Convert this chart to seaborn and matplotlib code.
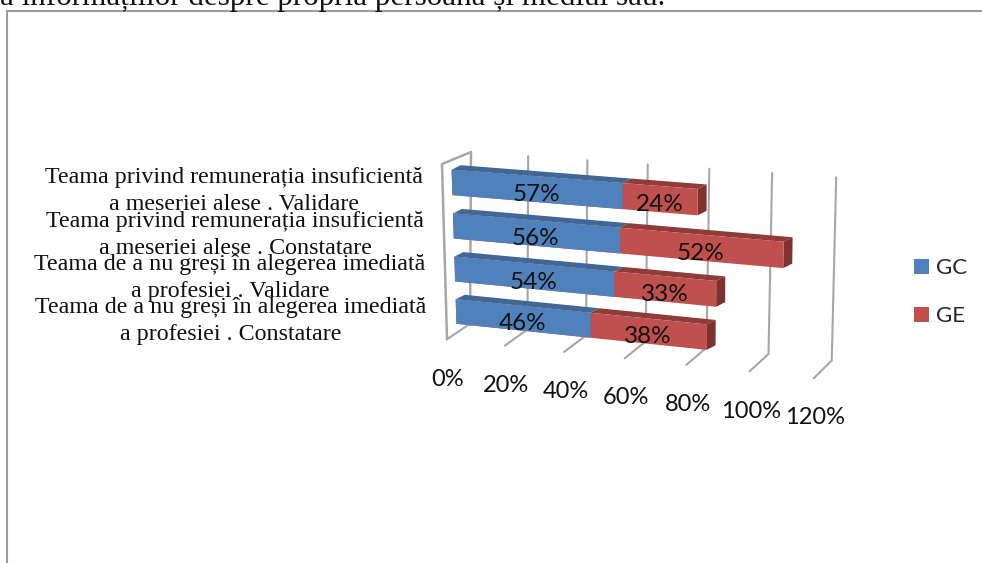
import matplotlib
matplotlib.use("Agg")
import matplotlib.pyplot as plt
from matplotlib.transforms import Transform
import numpy as np
import pandas as pd
import seaborn as sns

categorii = [
    "Teama privind remunerația insuficientă\na meseriei alese . Validare",
    "Teama privind remunerația insuficientă\na meseriei alese . Constatare",
    "Teama de a nu greși în alegerea imediată\na profesiei . Validare",
    "Teama de a nu greși în alegerea imediată\na profesiei . Constatare",
]
gc_valori = [57, 56, 54, 46]
ge_valori = [24, 52, 33, 38]
ticks_x = [0, 20, 40, 60, 80, 100, 120]
titlu = "a informațiilor despre propria persoană și mediul său."

ALBASTRU = "#4F81BD"
ALBASTRU_SUS = "#3F6797"
ROSU = "#C0504D"
ROSU_SUS = "#8E3B39"
ROSU_LATERAL = "#7E3230"
GRI = "#A6A6A6"
BAR_H = 0.58


class Omografie(Transform):
    """Perspectiva 3D falsa: plan (a, b) -> pixeli"""
    input_dims = 2
    output_dims = 2
    is_separable = False
    has_inverse = False

    def __init__(self, sursa, destinatie):
        super().__init__()
        rows = []
        for (a, b), (px, py) in zip(sursa, destinatie):
            rows.append([a, b, 1, 0, 0, 0, -px * a, -px * b, -px])
            rows.append([0, 0, 0, a, b, 1, -py * a, -py * b, -py])
        self.H = np.linalg.svd(np.array(rows, float))[2][-1].reshape(3, 3)

    def transform_non_affine(self, values):
        values = np.asarray(values, float)
        pts = np.c_[values, np.ones(len(values))] @ self.H.T
        return pts[:, :2] / pts[:, [2]]


# fata barelor: (valoare, rand) -> pixeli
fata = Omografie(
    [(0, -.29), (81, -.29), (81, .29), (0, .29),
     (0, .71), (0, 1.29), (108, .71), (108, 1.29),
     (0, 1.71), (0, 2.29), (87, 1.71), (87, 2.29),
     (0, 2.71), (0, 3.29), (84, 2.71), (84, 3.29)],
    [(452, 170), (698, 188), (698, 215), (452, 195),
     (453, 214), (453, 238), (783, 242), (783, 268),
     (455, 257), (455, 282), (716, 282), (716, 307),
     (456, 299), (456, 323), (707, 324), (707, 350)],
)
fata_podea = [(447, 338), (505, 345), (564, 352), (624, 358), (687, 366), (749, 372), (814, 379)]
spate_jos = [(470, 325), (527, 330), (586, 336), (646, 341), (707, 347), (769, 353), (831, 360)]
spate_sus = [(471, 152), (528, 156), (587, 160), (647, 164), (709, 169), (772, 173), (837, 178)]
podea = Omografie([(t, 0) for t in ticks_x] + [(t, 1) for t in ticks_x], fata_podea + spate_jos)
perete = Omografie([(t, 0) for t in ticks_x] + [(t, 1) for t in ticks_x], spate_jos + spate_sus)
lateral = Omografie([(0, 0), (1, 0), (1, 1), (0, 1)],
                    [(447, 338), (470, 325), (471, 152), (442, 164)])

sns.set_theme(style="white")
df = pd.DataFrame({"categorie": categorii, "GC": gc_valori, "GE": ge_valori})
df["total"] = df["GC"] + df["GE"]

fig = plt.figure(figsize=(9.82, 5.63), dpi=100)
ax = fig.add_axes([0, 0, 1, 1])
sns.barplot(df, x="total", y="categorie", color=ROSU, saturation=1, width=BAR_H,
            linewidth=0, label="GE", ax=ax, zorder=4)
sns.barplot(df, x="GC", y="categorie", color=ALBASTRU, saturation=1, width=BAR_H,
            linewidth=0, label="GC", ax=ax, zorder=5)
handles, labels = ax.get_legend_handles_labels()
ax.set_xlim(0, 982)
ax.set_ylim(563, 0)
ax.set_axis_off()

bare = fata + ax.transData
for p in ax.patches:
    p.set_transform(bare)
    p.set_clip_on(False)

# peretii si liniile de grila
for t in ticks_x:
    ax.plot([t, t], [0, 1], color=GRI, lw=1.5, transform=podea + ax.transData, zorder=1, clip_on=False)
    if t > 0:
        ax.plot([t, t], [0, 1], color=GRI, lw=1.5, transform=perete + ax.transData, zorder=1, clip_on=False)
    ax.annotate(f"{t}%", xy=(t, 0), xycoords=podea + ax.transData, xytext=(1, -28.5),
                textcoords="offset points", ha="center", va="center",
                fontsize=17, family="Lato", color="#111111")
ax.plot([0, 0, 1, 1], [0, 1, 1, 0], color=GRI, lw=1.8, transform=lateral + ax.transData, zorder=1)

# fetele de sus si laterale ale barelor
DX, DY = 9, -4.5
for r, (gc, ge) in enumerate(zip(gc_valori, ge_valori)):
    sus = r - BAR_H / 2
    jos = r + BAR_H / 2
    colt = fata.transform([(0, sus), (gc, sus), (gc + ge, sus), (gc + ge, jos)])
    for a, b, c in [(colt[0], colt[1], ALBASTRU_SUS), (colt[1], colt[2], ROSU_SUS)]:
        ax.fill([a[0], b[0], b[0] + DX, a[0] + DX], [a[1], b[1], b[1] + DY, a[1] + DY],
                color=c, lw=0, zorder=3)
    a, b = colt[2], colt[3]
    ax.fill([a[0], b[0], b[0] + DX, a[0] + DX], [a[1], b[1], b[1] + DY, a[1] + DY],
            color=ROSU_LATERAL, lw=0, zorder=3)
    # etichete de valori
    ax.annotate(f"{gc}%", xy=(gc / 2, r), xycoords=bare, xytext=(0, -4), textcoords="offset points",
                ha="center", va="center", fontsize=17.5, family="Lato", color="#111111", zorder=6)
    ax.annotate(f"{ge}%", xy=(gc + ge / 2, r), xycoords=bare, xytext=(0, -4), textcoords="offset points",
                ha="center", va="center", fontsize=17.5, family="Lato", color="#111111", zorder=6)

# etichetele categoriilor, suprapuse ca in original
pozitii_x = [234, 235, 230, 231]
pozitii_y = [191, 235, 278, 321]
for text, px, py in zip(categorii, pozitii_x, pozitii_y):
    ax.text(px, py, text, ha="center", va="center", family="Liberation Serif", fontsize=17.3,
            linespacing=1.38, color="#111111", zorder=7)

# cadrul graficului si randul de text taiat de sus
ax.plot([7.5, 7.5, 982], [563, 10.5, 10.5], color="#9C9C9C", lw=1.5, zorder=1)
ax.text(0, 5, titlu, ha="left", va="baseline", family="Liberation Serif", fontsize=22.4, color="#111111")

ax.legend(handles[::-1], labels[::-1], loc="upper left", bbox_to_anchor=(894 / 982, 1 - 238 / 563),
          frameon=False, handlelength=0.68, handleheight=0.68, handletextpad=0.3, labelspacing=1.26,
          prop={"family": "Lato", "size": 16})

fig.savefig("out.png", dpi=100)
